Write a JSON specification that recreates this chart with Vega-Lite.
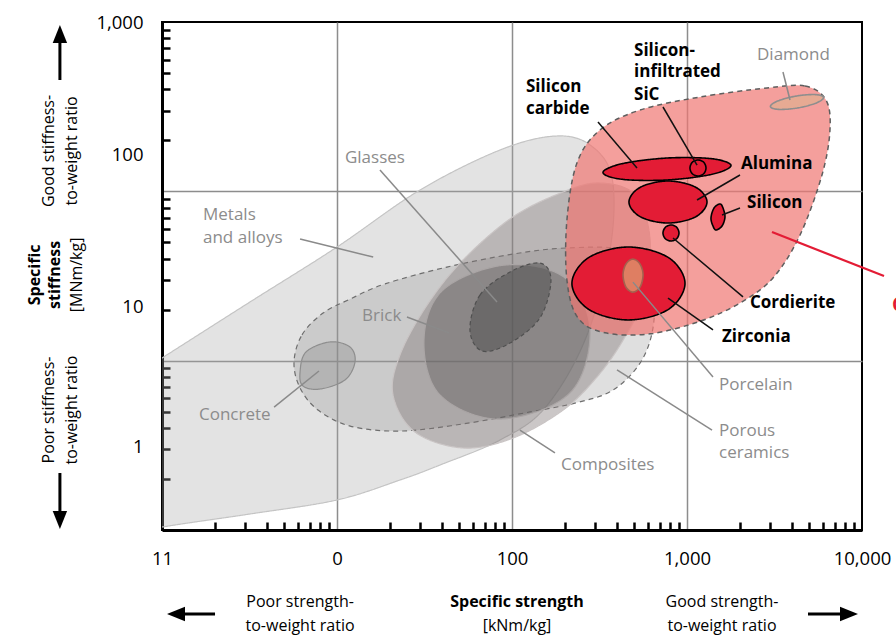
{
  "$schema": "https://vega.github.io/schema/vega-lite/v6.json",
  "width": 700,
  "height": 508,
  "autosize": "none",
  "padding": {"left": 162, "top": 22, "right": 34, "bottom": 106},
  "background": "white",
  "config": {"view": {"stroke": "black", "strokeWidth": 2}, "font": "Open Sans"},
  "datasets": {
    "blobs": [
      {"blob": "01 Metals and alloys", "i": 1, "strength": 176, "stiffness": 212},
      {"blob": "01 Metals and alloys", "i": 2, "strength": 279, "stiffness": 188},
      {"blob": "01 Metals and alloys", "i": 3, "strength": 373, "stiffness": 120},
      {"blob": "01 Metals and alloys", "i": 4, "strength": 363, "stiffness": 45},
      {"blob": "01 Metals and alloys", "i": 5, "strength": 261, "stiffness": 13.2},
      {"blob": "01 Metals and alloys", "i": 6, "strength": 154, "stiffness": 5.25},
      {"blob": "01 Metals and alloys", "i": 7, "strength": 85.4, "stiffness": 3.4},
      {"blob": "01 Metals and alloys", "i": 8, "strength": 38.8, "stiffness": 2.42},
      {"blob": "01 Metals and alloys", "i": 9, "strength": 22.9, "stiffness": 1.973},
      {"blob": "01 Metals and alloys", "i": 10, "strength": 10, "stiffness": 1.504},
      {"blob": "01 Metals and alloys", "i": 11, "strength": 3.18, "stiffness": 1.243},
      {"blob": "01 Metals and alloys", "i": 12, "strength": 1, "stiffness": 1.041},
      {"blob": "01 Metals and alloys", "i": 13, "strength": 0.261, "stiffness": 0.815},
      {"blob": "01 Metals and alloys", "i": 14, "strength": 0.176, "stiffness": 1.973},
      {"blob": "01 Metals and alloys", "i": 15, "strength": 0.34, "stiffness": 5.11},
      {"blob": "01 Metals and alloys", "i": 16, "strength": 1, "stiffness": 10.37},
      {"blob": "01 Metals and alloys", "i": 17, "strength": 3.18, "stiffness": 22.2},
      {"blob": "01 Metals and alloys", "i": 18, "strength": 10, "stiffness": 46.9},
      {"blob": "01 Metals and alloys", "i": 19, "strength": 29.8, "stiffness": 101.8},
      {"blob": "01 Metals and alloys", "i": 20, "strength": 85.4, "stiffness": 175.4},

      {"blob": "02 Porous ceramics", "i": 1, "strength": 5.68, "stiffness": 9.82},
      {"blob": "02 Porous ceramics", "i": 2, "strength": 6.31, "stiffness": 14.2},
      {"blob": "02 Porous ceramics", "i": 3, "strength": 8.32, "stiffness": 19.1},
      {"blob": "02 Porous ceramics", "i": 4, "strength": 11.87, "stiffness": 23.1},
      {"blob": "02 Porous ceramics", "i": 5, "strength": 18.8, "stiffness": 28.4},
      {"blob": "02 Porous ceramics", "i": 6, "strength": 42.5, "stiffness": 35.7},
      {"blob": "02 Porous ceramics", "i": 7, "strength": 101, "stiffness": 42.6},
      {"blob": "02 Porous ceramics", "i": 8, "strength": 206, "stiffness": 46.3},
      {"blob": "02 Porous ceramics", "i": 9, "strength": 442, "stiffness": 45},
      {"blob": "02 Porous ceramics", "i": 10, "strength": 615, "stiffness": 32.1},
      {"blob": "02 Porous ceramics", "i": 11, "strength": 648, "stiffness": 17.4},
      {"blob": "02 Porous ceramics", "i": 12, "strength": 553, "stiffness": 10.1},
      {"blob": "02 Porous ceramics", "i": 13, "strength": 378, "stiffness": 6.71},
      {"blob": "02 Porous ceramics", "i": 14, "strength": 229, "stiffness": 5.62},
      {"blob": "02 Porous ceramics", "i": 15, "strength": 126.7, "stiffness": 4.98},
      {"blob": "02 Porous ceramics", "i": 16, "strength": 52.5, "stiffness": 4.23},
      {"blob": "02 Porous ceramics", "i": 17, "strength": 22.9, "stiffness": 3.84},
      {"blob": "02 Porous ceramics", "i": 18, "strength": 11.9, "stiffness": 4.11},
      {"blob": "02 Porous ceramics", "i": 19, "strength": 7.79, "stiffness": 5.11},
      {"blob": "02 Porous ceramics", "i": 20, "strength": 6.15, "stiffness": 6.9},

      {"blob": "03 Concrete", "i": 1, "strength": 6.15, "stiffness": 8.57},
      {"blob": "03 Concrete", "i": 2, "strength": 6.65, "stiffness": 11.25},
      {"blob": "03 Concrete", "i": 3, "strength": 9.12, "stiffness": 12.9},
      {"blob": "03 Concrete", "i": 4, "strength": 11.87, "stiffness": 12.04},
      {"blob": "03 Concrete", "i": 5, "strength": 12.67, "stiffness": 9.82},
      {"blob": "03 Concrete", "i": 6, "strength": 11.1, "stiffness": 7.69},
      {"blob": "03 Concrete", "i": 7, "strength": 8.0, "stiffness": 6.8},
      {"blob": "03 Concrete", "i": 8, "strength": 6.39, "stiffness": 7.09},

      {"blob": "04 Composites", "i": 1, "strength": 318, "stiffness": 112},
      {"blob": "04 Composites", "i": 2, "strength": 505, "stiffness": 95.1},
      {"blob": "04 Composites", "i": 3, "strength": 615, "stiffness": 51.6},
      {"blob": "04 Composites", "i": 4, "strength": 553, "stiffness": 22.8},
      {"blob": "04 Composites", "i": 5, "strength": 431, "stiffness": 13.2},
      {"blob": "04 Composites", "i": 6, "strength": 306, "stiffness": 8.01},
      {"blob": "04 Composites", "i": 7, "strength": 196, "stiffness": 5.11},
      {"blob": "04 Composites", "i": 8, "strength": 101.3, "stiffness": 3.49},
      {"blob": "04 Composites", "i": 9, "strength": 52.5, "stiffness": 3.05},
      {"blob": "04 Composites", "i": 10, "strength": 27.9, "stiffness": 3.79},
      {"blob": "04 Composites", "i": 11, "strength": 20.9, "stiffness": 6.27},
      {"blob": "04 Composites", "i": 12, "strength": 22.9, "stiffness": 10.8},
      {"blob": "04 Composites", "i": 13, "strength": 32.7, "stiffness": 21.3},
      {"blob": "04 Composites", "i": 14, "strength": 52.5, "stiffness": 39.3},
      {"blob": "04 Composites", "i": 15, "strength": 101, "stiffness": 70.5},
      {"blob": "04 Composites", "i": 16, "strength": 196, "stiffness": 99.1},

      {"blob": "05 Brick", "i": 1, "strength": 31.4, "stiffness": 13.2},
      {"blob": "05 Brick", "i": 2, "strength": 40.3, "stiffness": 26.1},
      {"blob": "05 Brick", "i": 3, "strength": 91.2, "stiffness": 36.7},
      {"blob": "05 Brick", "i": 4, "strength": 201, "stiffness": 30.8},
      {"blob": "05 Brick", "i": 5, "strength": 279, "stiffness": 15.2},
      {"blob": "05 Brick", "i": 6, "strength": 214, "stiffness": 6.44},
      {"blob": "05 Brick", "i": 7, "strength": 85.4, "stiffness": 4.52},
      {"blob": "05 Brick", "i": 8, "strength": 38.8, "stiffness": 6.27},

      {"blob": "06 Glasses", "i": 1, "strength": 57.5, "stiffness": 15.2},
      {"blob": "06 Glasses", "i": 2, "strength": 65.6, "stiffness": 24.4},
      {"blob": "06 Glasses", "i": 3, "strength": 97.4, "stiffness": 33.4},
      {"blob": "06 Glasses", "i": 4, "strength": 144.5, "stiffness": 37.7},
      {"blob": "06 Glasses", "i": 5, "strength": 167, "stiffness": 29.9},
      {"blob": "06 Glasses", "i": 6, "strength": 144.5, "stiffness": 17.9},
      {"blob": "06 Glasses", "i": 7, "strength": 97.4, "stiffness": 12.7},
      {"blob": "06 Glasses", "i": 8, "strength": 67.4, "stiffness": 11.4},

      {"blob": "07 Ceramics", "i": 1, "strength": 2865, "stiffness": 407.6},
      {"blob": "07 Ceramics", "i": 2, "strength": 4724, "stiffness": 418.8},
      {"blob": "07 Ceramics", "i": 3, "strength": 6228, "stiffness": 346},
      {"blob": "07 Ceramics", "i": 4, "strength": 6560, "stiffness": 230},
      {"blob": "07 Ceramics", "i": 5, "strength": 5907, "stiffness": 124.9},
      {"blob": "07 Ceramics", "i": 6, "strength": 4423, "stiffness": 55.2},
      {"blob": "07 Ceramics", "i": 7, "strength": 3100, "stiffness": 30.8},
      {"blob": "07 Ceramics", "i": 8, "strength": 2009, "stiffness": 21.9},
      {"blob": "07 Ceramics", "i": 9, "strength": 1187, "stiffness": 17.1},
      {"blob": "07 Ceramics", "i": 10, "strength": 615, "stiffness": 14.4},
      {"blob": "07 Ceramics", "i": 11, "strength": 340, "stiffness": 14.6},
      {"blob": "07 Ceramics", "i": 12, "strength": 238, "stiffness": 17.9},
      {"blob": "07 Ceramics", "i": 13, "strength": 206, "stiffness": 29.9},
      {"blob": "07 Ceramics", "i": 14, "strength": 206, "stiffness": 67.7},
      {"blob": "07 Ceramics", "i": 15, "strength": 235, "stiffness": 147},
      {"blob": "07 Ceramics", "i": 16, "strength": 318, "stiffness": 230},
      {"blob": "07 Ceramics", "i": 17, "strength": 539, "stiffness": 302},
      {"blob": "07 Ceramics", "i": 18, "strength": 1187, "stiffness": 360.7},

      {"blob": "08 Silicon carbide", "i": 1, "strength": 1784, "stiffness": 142.1},
      {"blob": "08 Silicon carbide", "i": 2, "strength": 1390, "stiffness": 155.8},
      {"blob": "08 Silicon carbide", "i": 3, "strength": 769, "stiffness": 157.3},
      {"blob": "08 Silicon carbide", "i": 4, "strength": 425, "stiffness": 145.6},
      {"blob": "08 Silicon carbide", "i": 5, "strength": 331, "stiffness": 129.2},
      {"blob": "08 Silicon carbide", "i": 6, "strength": 425, "stiffness": 117.8},
      {"blob": "08 Silicon carbide", "i": 7, "strength": 769, "stiffness": 116.7},
      {"blob": "08 Silicon carbide", "i": 8, "strength": 1390, "stiffness": 126.1},

      {"blob": "09 Silicon-infiltrated SiC", "i": 1, "strength": 1284, "stiffness": 137.3},
      {"blob": "09 Silicon-infiltrated SiC", "i": 2, "strength": 1246, "stiffness": 148.4},
      {"blob": "09 Silicon-infiltrated SiC", "i": 3, "strength": 1156, "stiffness": 153.1},
      {"blob": "09 Silicon-infiltrated SiC", "i": 4, "strength": 1072, "stiffness": 148.4},
      {"blob": "09 Silicon-infiltrated SiC", "i": 5, "strength": 1040, "stiffness": 137.3},
      {"blob": "09 Silicon-infiltrated SiC", "i": 6, "strength": 1072, "stiffness": 127.1},
      {"blob": "09 Silicon-infiltrated SiC", "i": 7, "strength": 1156, "stiffness": 123.2},
      {"blob": "09 Silicon-infiltrated SiC", "i": 8, "strength": 1246, "stiffness": 127.1},

      {"blob": "10 Alumina", "i": 1, "strength": 1301, "stiffness": 86.5},
      {"blob": "10 Alumina", "i": 2, "strength": 1120, "stiffness": 105.8},
      {"blob": "10 Alumina", "i": 3, "strength": 779, "stiffness": 115.1},
      {"blob": "10 Alumina", "i": 4, "strength": 542, "stiffness": 105.8},
      {"blob": "10 Alumina", "i": 5, "strength": 466, "stiffness": 86.5},
      {"blob": "10 Alumina", "i": 6, "strength": 542, "stiffness": 70.7},
      {"blob": "10 Alumina", "i": 7, "strength": 779, "stiffness": 65},
      {"blob": "10 Alumina", "i": 8, "strength": 1120, "stiffness": 70.7},

      {"blob": "11 Silicon", "i": 1, "strength": 1648, "stiffness": 70.5},
      {"blob": "11 Silicon", "i": 2, "strength": 1606, "stiffness": 79.7},
      {"blob": "11 Silicon", "i": 3, "strength": 1544, "stiffness": 84.2},
      {"blob": "11 Silicon", "i": 4, "strength": 1427, "stiffness": 79.7},
      {"blob": "11 Silicon", "i": 5, "strength": 1371, "stiffness": 69.6},
      {"blob": "11 Silicon", "i": 6, "strength": 1408, "stiffness": 62.4},
      {"blob": "11 Silicon", "i": 7, "strength": 1465, "stiffness": 59.1},
      {"blob": "11 Silicon", "i": 8, "strength": 1585, "stiffness": 62.4},

      {"blob": "12 Cordierite", "i": 1, "strength": 900, "stiffness": 56.7},
      {"blob": "12 Cordierite", "i": 2, "strength": 873, "stiffness": 61.3},
      {"blob": "12 Cordierite", "i": 3, "strength": 810, "stiffness": 63.3},
      {"blob": "12 Cordierite", "i": 4, "strength": 752, "stiffness": 61.3},
      {"blob": "12 Cordierite", "i": 5, "strength": 729, "stiffness": 56.7},
      {"blob": "12 Cordierite", "i": 6, "strength": 752, "stiffness": 52.5},
      {"blob": "12 Cordierite", "i": 7, "strength": 810, "stiffness": 50.9},
      {"blob": "12 Cordierite", "i": 8, "strength": 873, "stiffness": 52.5},

      {"blob": "13 Zirconia", "i": 1, "strength": 974, "stiffness": 28.6},
      {"blob": "13 Zirconia", "i": 2, "strength": 784, "stiffness": 40.6},
      {"blob": "13 Zirconia", "i": 3, "strength": 463, "stiffness": 46.9},
      {"blob": "13 Zirconia", "i": 4, "strength": 274, "stiffness": 40.6},
      {"blob": "13 Zirconia", "i": 5, "strength": 220, "stiffness": 28.6},
      {"blob": "13 Zirconia", "i": 6, "strength": 274, "stiffness": 20.1},
      {"blob": "13 Zirconia", "i": 7, "strength": 463, "stiffness": 17.4},
      {"blob": "13 Zirconia", "i": 8, "strength": 784, "stiffness": 20.1},

      {"blob": "14 Porcelain", "i": 1, "strength": 561, "stiffness": 32.1},
      {"blob": "14 Porcelain", "i": 2, "strength": 539, "stiffness": 37.2},
      {"blob": "14 Porcelain", "i": 3, "strength": 491, "stiffness": 39.8},
      {"blob": "14 Porcelain", "i": 4, "strength": 448, "stiffness": 37.2},
      {"blob": "14 Porcelain", "i": 5, "strength": 431, "stiffness": 32.1},
      {"blob": "14 Porcelain", "i": 6, "strength": 448, "stiffness": 27.2},
      {"blob": "14 Porcelain", "i": 7, "strength": 491, "stiffness": 25.4},
      {"blob": "14 Porcelain", "i": 8, "strength": 539, "stiffness": 27.2},

      {"blob": "15 Diamond", "i": 1, "strength": 6034, "stiffness": 358.7},
      {"blob": "15 Diamond", "i": 2, "strength": 5495, "stiffness": 332.9},
      {"blob": "15 Diamond", "i": 3, "strength": 4308, "stiffness": 311},
      {"blob": "15 Diamond", "i": 4, "strength": 3350, "stiffness": 304.7},
      {"blob": "15 Diamond", "i": 5, "strength": 2996, "stiffness": 316.5},
      {"blob": "15 Diamond", "i": 6, "strength": 3289, "stiffness": 341.2},
      {"blob": "15 Diamond", "i": 7, "strength": 4196, "stiffness": 365.1},
      {"blob": "15 Diamond", "i": 8, "strength": 5395, "stiffness": 372.7}
    ],
    "leaders": [
      {"label": "Glasses", "group": "other", "strength": 17.6, "stiffness": 133.7, "strength2": 82.1, "stiffness2": 22.2},
      {"label": "Metals and alloys", "group": "other", "strength": 6.15, "stiffness": 52.3, "strength2": 16.1, "stiffness2": 40.9},
      {"label": "Brick", "group": "other", "strength": 25.1, "stiffness": 18.1, "strength2": 43.7, "stiffness2": 14.6},
      {"label": "Concrete", "group": "other", "strength": 4.37, "stiffness": 5.32, "strength2": 7.89, "stiffness2": 8.69},
      {"label": "Composites", "group": "other", "strength": 176, "stiffness": 2.85, "strength2": 111, "stiffness2": 3.89},
      {"label": "Porous ceramics", "group": "other", "strength": 1390, "stiffness": 3.89, "strength2": 398, "stiffness2": 8.81},
      {"label": "Porcelain", "group": "other", "strength": 1408, "stiffness": 8.01, "strength2": 491, "stiffness2": 29.1},
      {"label": "Diamond", "group": "other", "strength": 3536, "stiffness": 506.8, "strength2": 3878, "stiffness2": 346},
      {"label": "Zirconia", "group": "ceramic", "strength": 1408, "stiffness": 15.2, "strength2": 779, "stiffness2": 23.4},
      {"label": "Cordierite", "group": "ceramic", "strength": 2089, "stiffness": 23.8, "strength2": 832, "stiffness2": 53},
      {"label": "Silicon", "group": "ceramic", "strength": 2009, "stiffness": 79.7, "strength2": 1585, "stiffness2": 72.5},
      {"label": "Alumina", "group": "ceramic", "strength": 2009, "stiffness": 124.9, "strength2": 1141, "stiffness2": 88.9},
      {"label": "Silicon carbide", "group": "ceramic", "strength": 310, "stiffness": 256.7, "strength2": 518, "stiffness2": 137.3},
      {"label": "Silicon-infiltrated SiC", "group": "ceramic", "strength": 729, "stiffness": 314.8, "strength2": 1141, "stiffness2": 143},
      {"label": "Ceramics", "group": "class", "strength": 3060, "stiffness": 57.5, "strength2": 13360, "stiffness2": 31.6}
    ],
    "labels": [
      {"text": "Glasses", "group": "other", "strength": 11.1, "stiffness": 157.3},
      {"text": "Metals", "group": "other", "strength": 1.715, "stiffness": 72.5},
      {"text": "and alloys", "group": "other", "strength": 1.715, "stiffness": 53},
      {"text": "Brick", "group": "other", "strength": 13.9, "stiffness": 18.35},
      {"text": "Concrete", "group": "other", "strength": 1.627, "stiffness": 4.78},
      {"text": "Diamond", "group": "other", "strength": 2512, "stiffness": 638.5},
      {"text": "Porcelain", "group": "other", "strength": 1524, "stiffness": 7.18},
      {"text": "Porous", "group": "other", "strength": 1524, "stiffness": 3.84},
      {"text": "ceramics", "group": "other", "strength": 1524, "stiffness": 2.85},
      {"text": "Composites", "group": "other", "strength": 190.5, "stiffness": 2.42},
      {"text": "Silicon-", "group": "ceramic", "strength": 498, "stiffness": 674},
      {"text": "infiltrated", "group": "ceramic", "strength": 498, "stiffness": 506.8},
      {"text": "SiC", "group": "ceramic", "strength": 498, "stiffness": 370.7},
      {"text": "Silicon", "group": "ceramic", "strength": 120.2, "stiffness": 413.2},
      {"text": "carbide", "group": "ceramic", "strength": 120.2, "stiffness": 306.4},
      {"text": "Alumina", "group": "ceramic", "strength": 2035, "stiffness": 145},
      {"text": "Silicon", "group": "ceramic", "strength": 2203, "stiffness": 85.3},
      {"text": "Cordierite", "group": "ceramic", "strength": 2291, "stiffness": 21.9},
      {"text": "Zirconia", "group": "ceramic", "strength": 1585, "stiffness": 13.8},
      {"text": "Ceramics", "group": "class", "strength": 14840, "stiffness": 21.3}
    ],
    "notes": [
      {"text": "Good stiffness-", "side": "left", "role": "plain", "strength": 0.226, "stiffness": 173.1},
      {"text": "to-weight ratio", "side": "left", "role": "plain", "strength": 0.304, "stiffness": 173.1},
      {"text": "Specific", "side": "left", "role": "title", "strength": 0.188, "stiffness": 32.1},
      {"text": "stiffness", "side": "left", "role": "title", "strength": 0.2446, "stiffness": 32.1},
      {"text": "[MNm/kg]", "side": "left", "role": "plain", "strength": 0.3268, "stiffness": 32.1},
      {"text": "Poor stiffness-", "side": "left", "role": "plain", "strength": 0.226, "stiffness": 5.11},
      {"text": "to-weight ratio", "side": "left", "role": "plain", "strength": 0.304, "stiffness": 5.11},
      {"text": "Poor strength-", "side": "bottom", "role": "plain", "strength": 6.15, "stiffness": 0.3755},
      {"text": "to-weight ratio", "side": "bottom", "role": "plain", "strength": 6.15, "stiffness": 0.271},
      {"text": "Specific strength", "side": "bottom", "role": "title", "strength": 106.8, "stiffness": 0.3755},
      {"text": "[kNm/kg]", "side": "bottom", "role": "plain", "strength": 106.8, "stiffness": 0.271},
      {"text": "Good strength-", "side": "bottom", "role": "plain", "strength": 1585, "stiffness": 0.3755},
      {"text": "to-weight ratio", "side": "bottom", "role": "plain", "strength": 1585, "stiffness": 0.271}
    ],
    "arrows": [
      {"dir": "up", "strength": 0.261, "stiffness": 454.5, "strength2": 0.261, "stiffness2": 783, "head_strength": 0.261, "head_stiffness": 849},
      {"dir": "down", "strength": 0.261, "stiffness": 2.17, "strength2": 0.261, "stiffness2": 1.26, "head_strength": 0.261, "head_stiffness": 1.146},
      {"dir": "left", "strength": 2.009, "stiffness": 0.319, "strength2": 1.267, "stiffness2": 0.319, "head_strength": 1.202, "head_stiffness": 0.319},
      {"dir": "right", "strength": 4914, "stiffness": 0.319, "strength2": 7787, "stiffness2": 0.319, "head_strength": 8429, "head_stiffness": 0.319}
    ]
  },
  "layer": [
    {
      "data": {"name": "blobs"},
      "transform": [{"filter": {"field": "blob", "oneOf": ["01 Metals and alloys", "02 Porous ceramics", "03 Concrete", "04 Composites", "05 Brick", "06 Glasses"]}}],
      "mark": {"type": "line", "interpolate": "cardinal-closed", "clip": true, "strokeWidth": 1.2},
      "encoding": {
        "x": {"field": "strength", "type": "quantitative", "title": null, "scale": {"type": "log", "domain": [1, 10000], "nice": false},
          "axis": {
            "values": [1, 2, 3, 4, 5, 6, 7, 8, 9, 10, 20, 30, 40, 50, 60, 70, 80, 90, 100, 200, 300, 400, 500, 600, 700, 800, 900, 1000, 2000, 3000, 4000, 5000, 6000, 7000, 8000, 9000, 10000],
            "labelExpr": "datum.value==1?'11':datum.value==10?'0':datum.value==100?'100':datum.value==1000?'1,000':datum.value==10000?'10,000':''",
            "title": null, "grid": true, "gridColor": "#8d8d8d", "gridWidth": 1.5,
            "gridOpacity": {"condition": {"test": "datum.value==10||datum.value==100||datum.value==1000", "value": 1}, "value": 0},
            "tickSize": -8, "tickWidth": 2.5, "tickColor": "black",
            "tickOpacity": {"condition": {"test": "datum.value==1||datum.value==10||datum.value==100||datum.value==1000||datum.value==10000", "value": 0}, "value": 1},
            "domainColor": "black", "domainWidth": 3,
            "labelFont": "Open Sans", "labelFontSize": 18.5, "labelColor": "black", "labelBaseline": "middle",
            "labelPadding": 36, "labelOverlap": false, "labelFlush": false, "labelBound": false
          }},
        "y": {"field": "stiffness", "type": "quantitative", "title": null, "scale": {"type": "log", "domain": [1, 1000], "nice": false},
          "axis": {
            "values": [2, 3, 4, 5, 6, 7, 8, 9, 10, 20, 30, 40, 50, 60, 70, 80, 90, 100, 200, 300, 400, 500, 600, 700, 800, 900, 163.9, 20.75, 3.13, 1000],
            "labelExpr": "datum.value==1000?'1,000':datum.value==163.9?'100':datum.value==20.75?'10':datum.value==3.13?'1':''",
            "title": null, "grid": true, "gridColor": "#8d8d8d", "gridWidth": 1.5,
            "gridOpacity": {"condition": {"test": "datum.value==10||datum.value==100", "value": 1}, "value": 0},
            "tickSize": -8, "tickWidth": 2.5, "tickColor": "black",
            "tickOpacity": {"condition": {"test": "datum.value==10||datum.value==100||datum.value==1000||datum.value==163.9||datum.value==20.75||datum.value==3.13", "value": 0}, "value": 1},
            "domainColor": "black", "domainWidth": 3,
            "labelFont": "Open Sans", "labelFontSize": 18.5, "labelColor": "black", "labelBaseline": "middle", "labelAlign": "right",
            "labelPadding": 27, "labelOverlap": false, "labelFlush": false, "labelBound": false
          }},
        "order": {"field": "i"},
        "detail": {"field": "blob"},
        "fill": {"field": "blob", "type": "nominal", "legend": null, "scale": {
          "domain": ["01 Metals and alloys", "02 Porous ceramics", "03 Concrete", "04 Composites", "05 Brick", "06 Glasses", "07 Ceramics", "08 Silicon carbide", "09 Silicon-infiltrated SiC", "10 Alumina", "11 Silicon", "12 Cordierite", "13 Zirconia", "14 Porcelain", "15 Diamond"],
          "range": ["rgba(168,168,168,0.32)", "rgba(140,140,140,0.28)", "rgba(138,138,138,0.35)", "rgba(125,114,114,0.4)", "rgba(94,90,90,0.42)", "rgba(77,77,77,0.5)", "rgba(240,118,114,0.7)", "#e31c35", "#e31c35", "#e31c35", "#e31c35", "#e31c35", "#e31c35", "#df7e62", "#e6aa93"]}},
        "stroke": {"field": "blob", "type": "nominal", "legend": null, "scale": {
          "domain": ["01 Metals and alloys", "02 Porous ceramics", "03 Concrete", "04 Composites", "05 Brick", "06 Glasses", "07 Ceramics", "08 Silicon carbide", "09 Silicon-infiltrated SiC", "10 Alumina", "11 Silicon", "12 Cordierite", "13 Zirconia", "14 Porcelain", "15 Diamond"],
          "range": ["#c4c4c4", "#6e6e6e", "#8e8e8e", "#c9c4c4", "#aaa5a5", "#505050", "#5e5e5e", "#000000", "#000000", "#000000", "#000000", "#000000", "#000000", "#a4624f", "#8e8e8e"]}},
        "strokeDash": {"field": "blob", "type": "nominal", "legend": null, "scale": {
          "domain": ["01 Metals and alloys", "02 Porous ceramics", "03 Concrete", "04 Composites", "05 Brick", "06 Glasses", "07 Ceramics", "08 Silicon carbide", "09 Silicon-infiltrated SiC", "10 Alumina", "11 Silicon", "12 Cordierite", "13 Zirconia", "14 Porcelain", "15 Diamond"],
          "range": [[1, 0], [5, 4], [1, 0], [1, 0], [1, 0], [4, 3], [5, 4], [1, 0], [1, 0], [1, 0], [1, 0], [1, 0], [1, 0], [1, 0], [1, 0]]}}
      }
    },
    {
      "data": {"name": "blobs"},
      "transform": [{"filter": {"field": "blob", "oneOf": ["07 Ceramics"]}}],
      "mark": {"type": "line", "interpolate": "cardinal-closed", "clip": true, "strokeWidth": 1.5},
      "encoding": {
        "x": {"field": "strength", "type": "quantitative", "title": null},
        "y": {"field": "stiffness", "type": "quantitative", "title": null},
        "order": {"field": "i"},
        "detail": {"field": "blob"},
        "fill": {"field": "blob", "type": "nominal", "legend": null},
        "stroke": {"field": "blob", "type": "nominal", "legend": null},
        "strokeDash": {"field": "blob", "type": "nominal", "legend": null}
      }
    },
    {
      "data": {"name": "blobs"},
      "transform": [{"filter": {"field": "blob", "oneOf": ["08 Silicon carbide", "09 Silicon-infiltrated SiC", "10 Alumina", "11 Silicon", "12 Cordierite", "13 Zirconia", "14 Porcelain", "15 Diamond"]}}],
      "mark": {"type": "line", "interpolate": "cardinal-closed", "clip": true, "strokeWidth": 1.6},
      "encoding": {
        "x": {"field": "strength", "type": "quantitative", "title": null},
        "y": {"field": "stiffness", "type": "quantitative", "title": null},
        "order": {"field": "i"},
        "detail": {"field": "blob"},
        "fill": {"field": "blob", "type": "nominal", "legend": null},
        "stroke": {"field": "blob", "type": "nominal", "legend": null},
        "strokeDash": {"field": "blob", "type": "nominal", "legend": null}
      }
    },
    {
      "data": {"name": "leaders"},
      "transform": [{"filter": "datum.group == 'other'"}],
      "mark": {"type": "rule", "color": "#8a8a8a", "strokeWidth": 1.5},
      "encoding": {
        "x": {"field": "strength", "type": "quantitative", "title": null},
        "y": {"field": "stiffness", "type": "quantitative", "title": null},
        "x2": {"field": "strength2"},
        "y2": {"field": "stiffness2"}
      }
    },
    {
      "data": {"name": "leaders"},
      "transform": [{"filter": "datum.group == 'ceramic'"}],
      "mark": {"type": "rule", "color": "#111111", "strokeWidth": 1.5},
      "encoding": {
        "x": {"field": "strength", "type": "quantitative", "title": null},
        "y": {"field": "stiffness", "type": "quantitative", "title": null},
        "x2": {"field": "strength2"},
        "y2": {"field": "stiffness2"}
      }
    },
    {
      "data": {"name": "leaders"},
      "transform": [{"filter": "datum.group == 'class'"}],
      "mark": {"type": "rule", "color": "#e31c35", "strokeWidth": 2.2},
      "encoding": {
        "x": {"field": "strength", "type": "quantitative", "title": null},
        "y": {"field": "stiffness", "type": "quantitative", "title": null},
        "x2": {"field": "strength2"},
        "y2": {"field": "stiffness2"}
      }
    },
    {
      "data": {"name": "labels"},
      "transform": [{"filter": "datum.group == 'other'"}],
      "mark": {"type": "text", "align": "left", "baseline": "middle", "font": "Open Sans", "fontSize": 17, "color": "#8c8c8c"},
      "encoding": {
        "x": {"field": "strength", "type": "quantitative", "title": null},
        "y": {"field": "stiffness", "type": "quantitative", "title": null},
        "text": {"field": "text"}
      }
    },
    {
      "data": {"name": "labels"},
      "transform": [{"filter": "datum.group == 'ceramic'"}],
      "mark": {"type": "text", "align": "left", "baseline": "middle", "font": "Open Sans", "fontSize": 17, "fontWeight": "bold", "color": "#000000"},
      "encoding": {
        "x": {"field": "strength", "type": "quantitative", "title": null},
        "y": {"field": "stiffness", "type": "quantitative", "title": null},
        "text": {"field": "text"}
      }
    },
    {
      "data": {"name": "labels"},
      "transform": [{"filter": "datum.group == 'class'"}],
      "mark": {"type": "text", "align": "left", "baseline": "middle", "font": "Open Sans", "fontSize": 19, "fontWeight": "bold", "color": "#e31c35"},
      "encoding": {
        "x": {"field": "strength", "type": "quantitative", "title": null},
        "y": {"field": "stiffness", "type": "quantitative", "title": null},
        "text": {"field": "text"}
      }
    },
    {
      "data": {"name": "notes"},
      "transform": [{"filter": "datum.side == 'left' && datum.role == 'title'"}],
      "mark": {"type": "text", "align": "center", "baseline": "middle", "angle": 270, "font": "Open Sans", "fontSize": 16, "fontWeight": "bold", "color": "#000000"},
      "encoding": {
        "x": {"field": "strength", "type": "quantitative", "title": null},
        "y": {"field": "stiffness", "type": "quantitative", "title": null},
        "text": {"field": "text"}
      }
    },
    {
      "data": {"name": "notes"},
      "transform": [{"filter": "datum.side == 'left' && datum.role == 'plain'"}],
      "mark": {"type": "text", "align": "center", "baseline": "middle", "angle": 270, "font": "Open Sans", "fontSize": 16, "color": "#000000"},
      "encoding": {
        "x": {"field": "strength", "type": "quantitative", "title": null},
        "y": {"field": "stiffness", "type": "quantitative", "title": null},
        "text": {"field": "text"}
      }
    },
    {
      "data": {"name": "notes"},
      "transform": [{"filter": "datum.side == 'bottom' && datum.role == 'title'"}],
      "mark": {"type": "text", "align": "center", "baseline": "middle", "font": "Open Sans", "fontSize": 16, "fontWeight": "bold", "color": "#000000"},
      "encoding": {
        "x": {"field": "strength", "type": "quantitative", "title": null},
        "y": {"field": "stiffness", "type": "quantitative", "title": null},
        "text": {"field": "text"}
      }
    },
    {
      "data": {"name": "notes"},
      "transform": [{"filter": "datum.side == 'bottom' && datum.role == 'plain'"}],
      "mark": {"type": "text", "align": "center", "baseline": "middle", "font": "Open Sans", "fontSize": 16, "color": "#000000"},
      "encoding": {
        "x": {"field": "strength", "type": "quantitative", "title": null},
        "y": {"field": "stiffness", "type": "quantitative", "title": null},
        "text": {"field": "text"}
      }
    },
    {
      "data": {"name": "arrows"},
      "mark": {"type": "rule", "color": "#000000", "strokeWidth": 3},
      "encoding": {
        "x": {"field": "strength", "type": "quantitative", "title": null},
        "y": {"field": "stiffness", "type": "quantitative", "title": null},
        "x2": {"field": "strength2"},
        "y2": {"field": "stiffness2"}
      }
    },
    {
      "data": {"name": "arrows"},
      "mark": {"type": "point", "filled": true, "color": "#000000", "opacity": 1, "size": 324},
      "encoding": {
        "x": {"field": "head_strength", "type": "quantitative", "title": null},
        "y": {"field": "head_stiffness", "type": "quantitative", "title": null},
        "shape": {"field": "dir", "type": "nominal", "legend": null, "scale": {"domain": ["up", "down", "left", "right"], "range": ["M0,-1L0.8,1L-0.8,1Z", "M0,1L0.8,-1L-0.8,-1Z", "M-1,0L1,-0.8L1,0.8Z", "M1,0L-1,-0.8L-1,0.8Z"]}}
      }
    }
  ]
}
